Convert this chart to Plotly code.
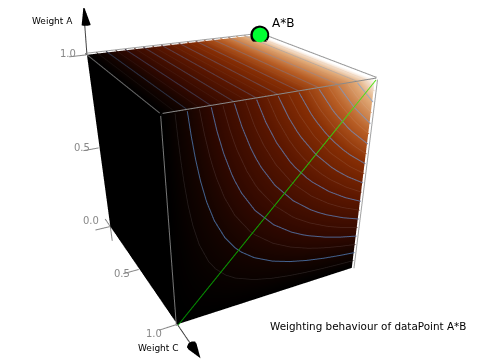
import numpy as np
import plotly.graph_objects as go

# ---- data ----
weight_steps = [0.0,0.1,0.2,0.3,0.4,0.5,0.6,0.7,0.8,0.9,1.0]
front_values = [
 [0,0,0,0,0,0,0,0,0,0,0],
 [0,.01,.02,.03,.04,.05,.06,.07,.08,.09,.10],
 [0,.02,.04,.06,.08,.10,.12,.14,.16,.18,.20],
 [0,.03,.06,.09,.12,.15,.18,.21,.24,.27,.30],
 [0,.04,.08,.12,.16,.20,.24,.28,.32,.36,.40],
 [0,.05,.10,.15,.20,.25,.30,.35,.40,.45,.50],
 [0,.06,.12,.18,.24,.30,.36,.42,.48,.54,.60],
 [0,.07,.14,.21,.28,.35,.42,.49,.56,.63,.70],
 [0,.08,.16,.24,.32,.40,.48,.56,.64,.72,.80],
 [0,.09,.18,.27,.36,.45,.54,.63,.72,.81,.90],
 [0,.10,.20,.30,.40,.50,.60,.70,.80,.90,1.0]]
major_levels = [.1,.2,.3,.4,.5,.6,.7,.8,.9]
minor_levels = [.05,.15,.25,.35,.45,.55,.65,.75,.85,.95]
tick_labels = ["0.0","0.5","1.0"]
tick_values = [0.0,0.5,1.0]
color_stops = [0,.1,.2,.4,.6,.75,.9,1]
color_rgb = [(0,0,0),(22,4,0),(48,8,0),(90,22,0),(135,46,4),(185,95,38),(226,172,122),(255,255,255)]
colormap = [[s,"rgb(%d,%d,%d)"%c] for s,c in zip(color_stops,color_rgb)]

OFF=8
W=464
H=480
CAM=[2.422,-1.185,1.179,0.248,-0.033,-0.351,0.970,0.968]
span=1.8

# ---- helpers ----
B=np.array(weight_steps); V=np.array(front_values)
def crossings(level):
    pts=[]
    for i,a in enumerate(weight_steps):
        row=V[i]
        for j in range(10):
            if row[j]<level<=row[j+1]:
                pts.append((B[j]+(level-row[j])/(row[j+1]-row[j])*.1,a))
    for j,b in enumerate(weight_steps):
        col=V[:,j]
        for i in range(10):
            if col[i]<level<=col[i+1]:
                pts.append((b,B[i]+(level-col[i])/(col[i+1]-col[i])*.1))
    return sorted(set((round(x,4),round(y,4)) for x,y in pts))
def shade(level,tint,alpha):
    base=[np.interp(level,color_stops,[c[k] for c in color_rgb]) for k in range(3)]
    return "rgb(%d,%d,%d)"%tuple(int(b*(1-alpha)+t*alpha) for b,t in zip(base,tint))

fig=go.Figure()
light=dict(ambient=1,diffuse=0,specular=0,roughness=1,fresnel=0)
X,Z=np.meshgrid(B,B)
common=dict(colorscale=colormap,cmin=0,cmax=1,showscale=False,lighting=light,hoverinfo="skip")
fig.add_trace(go.Surface(x=np.ones_like(X),y=X,z=Z,surfacecolor=V,**common))
fig.add_trace(go.Surface(x=Z,y=X,z=np.ones_like(X),surfacecolor=V[-1][None,:].repeat(11,0),**common))
fig.add_trace(go.Surface(x=X,y=np.zeros_like(X),z=Z,surfacecolor=np.zeros_like(X),**common))

def line(c,b,a,color,width=2):
    fig.add_trace(go.Scatter3d(x=c,y=b,z=a,mode="lines",line=dict(color=color,width=width),hoverinfo="skip",showlegend=False))

eps=.006
for levels,tint,af,at,wd in ((major_levels,(100,165,245),.58,.28,2),(minor_levels,(220,220,225),.13,.06,1.5)):
    for L in levels:
        pts=crossings(L)
        line([1+eps]*len(pts),[q[0] for q in pts],[q[1] for q in pts],shade(L,tint,af),wd)
        line([0,1],[L,L],[1+eps,1+eps],shade(L,tint,at),wd)

e2=.008
line([0,1],[-e2,-e2],[1+e2,1+e2],"#666666")
line([1+e2,1+e2],[-e2,-e2],[1,0],"#777777")
line([1+e2,1+e2],[0,1],[1+e2,1+e2],"#8a8a8a")
line([1+e2,1+e2],[1+e2,1+e2],[1,0],"#a0a0a0")
line([0,1],[1+e2,1+e2],[1+e2,1+e2],"#999999")
line([0,0],[0,1],[1+e2,1+e2],"#a0a0a0")
fig.add_trace(go.Scatter3d(x=[1+e2]*11,y=weight_steps,z=weight_steps,mode="lines",hoverinfo="skip",showlegend=False,
    line=dict(color=weight_steps,width=2,colorscale=[[0,"rgb(0,135,0)"],[.5,"rgb(20,170,0)"],[1,"rgb(90,225,30)"]],cmin=0,cmax=1)))

# axes
line([0,0],[0,.012],[1,1.19],"#444444")
line([1,1.2],[0,0],[0,0],"#444444")
for v in tick_values:
    line([0,0],[-.09,-.005],[v,v],"#888888",2)
    line([v,v],[-.09,-.005],[0,0],"#888888",2)
line([0,-.1],[0,0],[0,0],"#888888",2)
line([0,0],[0,0],[0,-.1],"#888888",2)
fig.add_trace(go.Cone(x=[0],y=[.016],z=[1.232],u=[0],v=[0],w=[1],sizemode="absolute",sizeref=.09,anchor="tip",
    colorscale=[[0,"black"],[1,"black"]],showscale=False,lighting=light,hoverinfo="skip"))
fig.add_trace(go.Cone(x=[1.25],y=[0],z=[0],u=[1],v=[0],w=[0],sizemode="absolute",sizeref=.09,anchor="tip",
    colorscale=[[0,"black"],[1,"black"]],showscale=False,lighting=light,hoverinfo="skip"))
# marker: black ring behind a green disc, both on the sight line through the corner
fig.add_trace(go.Scatter3d(x=[.13],y=[.925],z=[1.032],mode="markers",marker=dict(size=11,color="black"),hoverinfo="skip",showlegend=False))
fig.add_trace(go.Scatter3d(x=[.26],y=[.85],z=[1.064],mode="markers",marker=dict(size=8.5,color="rgb(0,255,50)"),hoverinfo="skip",showlegend=False))

ann=[]
def a3(x,y,z,t,dx,dy,size=10,color="#888888",anchor="right"):
    ann.append(dict(x=x,y=y,z=z,text=t,showarrow=False,xshift=dx,yshift=dy,xanchor=anchor,yanchor="middle",
                    font=dict(family="DejaVu Sans",size=size,color=color)))
a3(0,0,1,tick_labels[2],-9,1)
a3(0,0,.5,tick_labels[1],-8,0)
a3(0,0,0,tick_labels[0],-9,6)
a3(.5,0,0,tick_labels[1],-8,-4)
a3(1,0,0,tick_labels[2],-13,-9)
a3(0,.016,1.232,"Weight A",-9,-16,9,"#000000")
a3(1,0,0,"Weight C",4,-24,9,"#000000")
a3(0,1,1,"A*B",11,12,12,"#000000","left")

fig.update_layout(
    width=W,height=H,margin=dict(l=0,r=0,t=0,b=0),paper_bgcolor="white",showlegend=False,
    scene=dict(
        domain=dict(x=[0,1],y=[0,1]),
        xaxis=dict(visible=False,range=[-.4,1.4]),
        yaxis=dict(visible=False,range=[-.4,1.4]),
        zaxis=dict(visible=False,range=[-.4,1.4]),
        aspectmode="manual",
        aspectratio=dict(x=span,y=span*CAM[6],z=span*CAM[7]),
        camera=dict(eye=dict(x=CAM[0],y=CAM[1],z=CAM[2]),center=dict(x=CAM[3],y=CAM[4],z=CAM[5]),up=dict(x=0,y=0,z=1),
                    projection=dict(type="perspective")),
        annotations=ann))
fig.add_annotation(x=(268-OFF)/W,y=(H-(326-OFF))/H,xref="paper",yref="paper",text="Weighting behaviour of dataPoint A*B",showarrow=False,
                      xanchor="left",yanchor="middle",font=dict(family="DejaVu Sans",size=10.4,color="black"))
fig.write_html("out.html")
